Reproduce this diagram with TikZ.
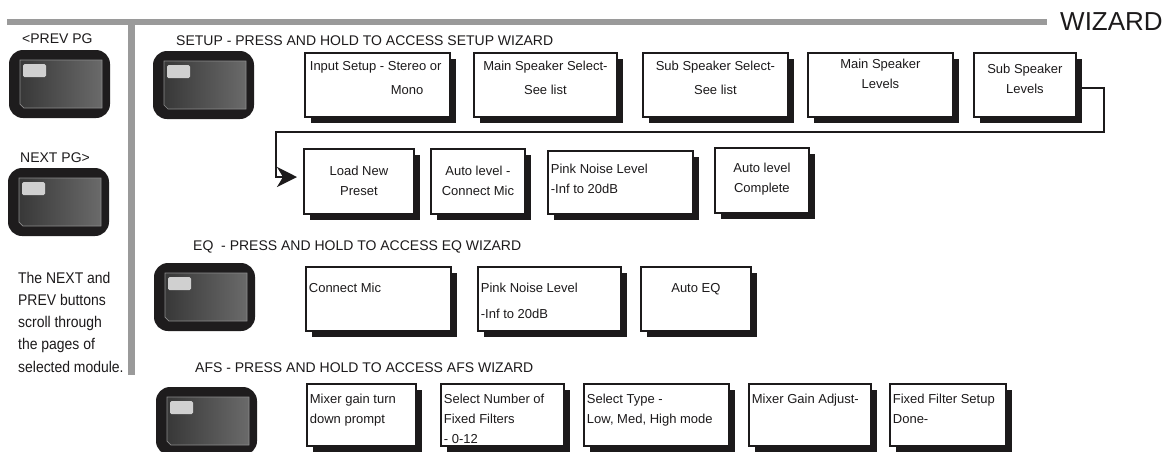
\documentclass[tikz,border=0pt]{standalone}
\usepackage{fontspec}
\setmainfont{Liberation Sans}
\usetikzlibrary{shadows,arrows.meta,calc}
\definecolor{barg}{HTML}{9A9A9A}
\definecolor{ink}{HTML}{1C1A1B}
\definecolor{btnout}{HTML}{1E1C1D}
\definecolor{btnd}{HTML}{383838}
\definecolor{btnl}{HTML}{6A6A6A}
\definecolor{btnedge}{HTML}{8C8C8C}
\definecolor{btnled}{HTML}{D0D0D0}
\newcommand\bx[5]{\parbox[c][#2pt][t]{#1pt}{#4\leavevmode\rule{0pt}{#3pt}#5}}
\begin{document}
\begin{tikzpicture}[x=1pt,y=-1pt,
  font=\fontsize{13}{20}\selectfont,
  gbar/.style={draw=barg},
  wbox/.style={draw=ink, line width=1.8pt, fill=white, text=ink,
    inner xsep=3pt, inner ysep=0pt, anchor=north west,
    general shadow={fill=ink, shadow xshift=6pt, shadow yshift=-6pt}},
  ttl/.style={anchor=base west, inner sep=0pt, text=ink, font=\fontsize{14}{16}\selectfont},
  side/.style={anchor=north west, inner sep=0pt, text=ink, font=\fontsize{15.5}{22.2}\selectfont, xscale=0.9, transform shape},
  conn/.style={draw=ink, line width=2pt, -{Stealth[length=20pt,width=20pt,inset=6pt]}, shorten >=6pt},
  btn/.pic={
    \fill[btnout, rounded corners=14pt] (0,0) rectangle (101,68);
    \shade[left color=btnd, right color=btnl, draw=btnedge, line width=0.7pt]
      (11,10) -- (93,10) -- (93,58) -- (15,58) -- (11,54) -- cycle;
    \fill[btnled, rounded corners=1.5pt] (14,14) rectangle (37,27);
  }]
\useasboundingbox (0,0) rectangle (1176,451);
\fill[white] (0,0) rectangle (1176,451);

% gray frame bars
\draw[gbar, line width=6.5pt] (7,22) -- (1047,22);
\draw[gbar, line width=7pt] (131.5,22) -- (131.5,375);
\node[anchor=base west, inner sep=0pt, text=ink, font=\fontsize{26}{28}\selectfont] (wiz) at (1060,30) {WIZARD};

% left column
\node[ttl] (lprev) at (22,43) {<PREV PG};
\pic at (9,50) {btn};
\node[ttl] (lnext) at (20,162) {NEXT PG>};
\pic at (8,168) {btn};
\node[side] (note) at (18,268) {\parbox[t]{140pt}{\rule{0pt}{15pt}The NEXT and\\PREV buttons\\scroll through\\the pages of\\selected module.}};

% section labels and buttons
\node[ttl] (lsetup) at (176,45) {SETUP - PRESS AND HOLD TO ACCESS SETUP WIZARD};
\pic at (153,51) {btn};
\node[ttl] (leq) at (193,250) {EQ\ \ - PRESS AND HOLD TO ACCESS EQ WIZARD};
\pic at (154,263) {btn};
\node[ttl] (lafs) at (195,372) {AFS - PRESS AND HOLD TO ACCESS AFS WIZARD};
\pic at (156,387) {btn};

% SETUP row 1
\node[wbox] (s1) at (304,52) {\bx{139}{64}{18}{\raggedright}{\hspace*{2pt}Input Setup - Stereo or\\[4pt]\hspace*{83pt}Mono}};
\node[wbox] (s2) at (473,52) {\bx{137}{64}{18}{\centering}{Main Speaker Select-\\[4pt]See list}};
\node[wbox] (s3) at (642,52) {\bx{139}{64}{18}{\centering}{Sub Speaker Select-\\[4pt]See list}};
\node[wbox] (s4) at (807,52) {\bx{139}{64}{16}{\centering}{Main Speaker\\Levels}};
\node[wbox] (s5) at (973,52) {\bx{96}{64}{21}{\centering}{Sub Speaker\\Levels}};

% SETUP row 2
\node[wbox] (r1) at (303,148) {\bx{104}{65}{27}{\centering}{Load New\\Preset}};
\node[wbox] (r2) at (430,148) {\bx{88}{65}{27}{\centering}{Auto level -\\Connect Mic}};
\node[wbox] (r3) at (547,150) {\bx{139}{63}{23}{\raggedright}{Pink Noise Level\\-Inf to 20dB}};
\node[wbox] (r4) at (714,147) {\bx{88}{65}{25}{\centering}{Auto level\\Complete}};

% connector from row 1 to row 2
\coordinate (k1) at (1104,88);
\coordinate (k2) at (1104,132);
\coordinate (k3) at (276,132);
\coordinate (k4) at (276,177);
\draw[conn] (s5.east |- k1) -- (k1) -- (k2) -- (k3) -- (k4) -- (k4 -| r1.west);

% EQ row
\node[wbox] (e1) at (305,266) {\bx{139}{64}{26}{\raggedright}{Connect Mic}};
\node[wbox] (e2) at (477,266) {\bx{137}{64}{26}{\raggedright}{Pink Noise Level\\[6pt]-Inf to 20dB}};
\node[wbox] (e3) at (640,266) {\bx{104}{64}{26}{\centering}{Auto EQ}};

% AFS row
\node[wbox] (a1) at (306,383) {\bx{103}{62}{20}{\raggedright}{Mixer gain turn\\down prompt}};
\node[wbox] (a2) at (440,383) {\bx{117}{62}{20}{\raggedright}{Select Number of\\Fixed Filters\\- 0-12}};
\node[wbox] (a3) at (583,383) {\bx{139}{62}{20}{\raggedright}{Select Type -\\Low, Med, High mode}};
\node[wbox] (a4) at (748,383) {\bx{116}{62}{20}{\raggedright}{Mixer Gain Adjust-}};
\node[wbox] (a5) at (889,383) {\bx{110}{62}{20}{\raggedright}{Fixed Filter Setup\\Done-}};
\end{tikzpicture}
\end{document}
